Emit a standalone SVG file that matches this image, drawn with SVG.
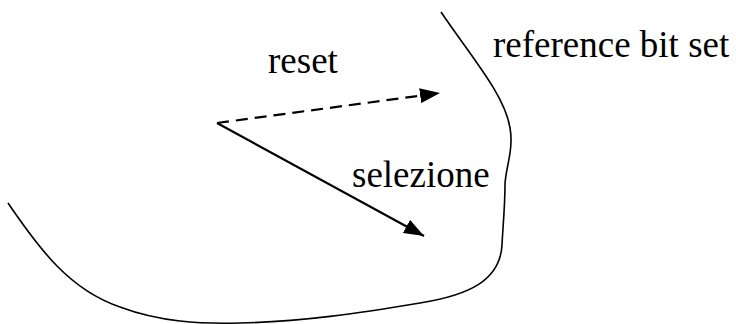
<svg xmlns="http://www.w3.org/2000/svg" width="736" height="324" viewBox="0 0 736 324">
<style>
.t{font-family:"Liberation Serif","Times New Roman",serif;font-size:37px;fill:#000}
.c{fill:none;stroke:#000;stroke-width:1.6}
.a{fill:none;stroke:#000;stroke-width:2.2}
</style>
<defs>
<marker id="ah2" viewBox="0 0 10 10" refX="10" refY="5" markerWidth="20" markerHeight="15" orient="auto" markerUnits="userSpaceOnUse" preserveAspectRatio="none">
<path d="M0,0 L10,5 L0,10 Z" fill="#000"/>
</marker>
</defs>
<g id="set">
<path class="c" d="M441,12 C470,55 505,95 510,128 C514,150 505,170 505,185 C505,205 503,225 502,245 C500,280 470,295 420,303 C360,313 300,322 240,323 C200,324 160,322 120,307 C70,290 40,250 8,203"/>
<text class="t" x="493" y="57">reference bit set</text>
</g>
<g id="connectors">
<path class="a" d="M217,123 L440,93" stroke-dasharray="12,7" marker-end="url(#ah2)"/>
<path class="a" d="M217,123 L424,236" marker-end="url(#ah2)"/>
</g>
<g id="labels">
<text class="t" x="268" y="73">reset</text>
<text class="t" x="352" y="187">selezione</text>
</g>
</svg>
